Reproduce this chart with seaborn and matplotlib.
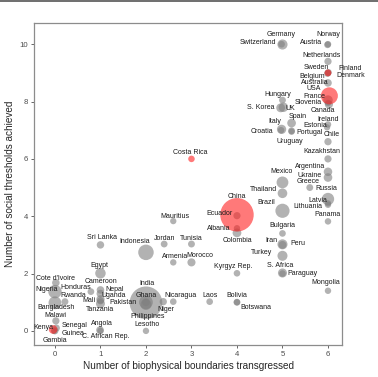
import numpy as np
import pandas as pd
import seaborn as sns
import matplotlib.pyplot as plt
from matplotlib.lines import Line2D

# countries, boundaries transgressed (jittered), thresholds achieved (jittered), population (M)
countries = ["Germany", "Switzerland", "Norway", "Austria", "Netherlands", "Sweden", "Finland",
             "Belgium", "Denmark", "Australia", "USA", "France", "Slovenia", "Canada", "Hungary",
             "S. Korea", "UK", "Spain", "Italy", "Croatia", "Ireland", "Estonia", "Portugal", "Uruguay",
             "Chile", "Kazakhstan", "Argentina", "Ukraine", "Greece", "Mexico", "Thailand", "Russia",
             "Latvia", "Lithuania", "Brazil", "Panama", "Bulgaria", "Iran", "Peru", "Turkey",
             "S. Africa", "Paraguay", "Mongolia", "China", "Ecuador", "Albania", "Colombia",
             "Kyrgyz Rep.", "Bolivia", "Botswana", "Costa Rica", "Mauritius", "Jordan", "Tunisia",
             "Indonesia", "Armenia", "Morocco", "Sri Lanka", "Egypt", "Laos", "Nicaragua", "Niger",
             "India", "Ghana", "Pakistan", "Philippines", "Lesotho", "Cote d'Ivoire", "Nigeria",
             "Bangladesh", "Rwanda", "Malawi", "Kenya", "Senegal", "Guinea", "Gambia", "Honduras",
             "Cameroon", "Nepal", "Uganda", "Mali", "Tanzania", "Angola", "C. African Rep."]
boundaries = [5.00, 4.98, 6.00, 5.99, 6.00, 6.00, 6.01,
              5.99, 6.00, 6.00, 6.03, 6.00, 6.00, 6.02, 5.00,
              4.96, 5.02, 5.20, 4.98, 4.97, 6.00, 5.98, 5.20, 5.20,
              6.00, 6.00, 6.00, 6.00, 5.60, 5.00, 5.00, 6.00,
              6.00, 6.00, 5.00, 6.00, 5.00, 5.00, 5.00, 5.00,
              5.00, 5.00, 6.00, 4.00, 4.00, 4.00, 4.00,
              4.00, 4.00, 4.00, 3.00, 2.60, 2.40, 3.00,
              2.00, 2.60, 3.00, 1.00, 1.00, 3.40, 2.60, 2.38,
              2.00, 2.00, 2.00, 2.00, 2.00, 0.02, 0.00,
              0.00, 0.22, 0.02, -0.04, 0.03, 0.00, -0.02, 0.79,
              1.00, 1.00, 1.00, 1.00, 1.00, 0.99, 1.00]
thresholds = [9.99, 10.0, 10.0, 9.98, 9.40, 9.00, 9.02,
              8.98, 9.00, 8.65, 8.20, 8.05, 7.95, 7.90, 8.05,
              7.78, 7.80, 7.25, 7.03, 7.00, 7.20, 7.10, 6.98, 6.95,
              6.60, 6.00, 5.55, 5.35, 5.00, 5.18, 4.80, 4.60,
              4.45, 4.40, 4.19, 3.82, 3.40, 3.02, 3.00, 2.62,
              2.02, 2.00, 1.40, 4.05, 4.02, 3.58, 3.42,
              2.01, 1.00, 1.00, 6.00, 3.83, 3.03, 3.03,
              2.74, 2.39, 2.39, 3.00, 2.01, 1.02, 1.02, 1.02,
              0.98, 1.00, 1.00, 0.92, 0.00, 1.68, 1.37,
              0.98, 1.02, 0.35, 0.05, 0.10, 0.00, 0.00, 1.37,
              1.43, 1.30, 1.10, 1.05, 0.95, 0.03, 0.00]
population = [81, 8, 5, 8.5, 17, 10, 5.5,
              11, 5.7, 24, 320, 66, 2, 36, 10,
              50, 65, 46, 60, 4, 4.6, 1.3, 10, 3.4,
              18, 17, 43, 45, 11, 127, 68, 144,
              2, 3, 205, 4, 7, 79, 31, 78,
              55, 7, 3, 1370, 16, 3, 48,
              6, 11, 2, 5, 1.3, 9.5, 11,
              255, 3, 34, 21, 90, 7, 6, 19,
              1300, 27, 190, 100, 2, 23, 180,
              160, 11, 17, 46, 15, 12, 2, 8,
              23, 28, 39, 17, 53, 25, 4.5]
highlighted = ["USA", "China", "Costa Rica", "Sweden", "Kenya"]

# label offsets in pixels (dx, dy) from each bubble
label_offsets = {
    "Germany": (-1, 10), "Switzerland": (-24, 2), "Norway": (0, 10), "Austria": (-16, 2),
    "Netherlands": (-6, 6), "Sweden": (-12, 5), "Finland": (22, 4), "Belgium": (-15, -3),
    "Denmark": (23, -3), "Australia": (-13, 0), "USA": (-16, 7), "France": (-14, 4),
    "Slovenia": (-20, 0), "Canada": (-6, -6), "Hungary": (-5, 6), "S. Korea": (-20, 0),
    "UK": (7, -1), "Spain": (6, 7), "Italy": (-7, 8), "Croatia": (-19, -1), "Ireland": (0, 5),
    "Estonia": (-12, 2), "Portugal": (18, -2), "Uruguay": (-2, -10), "Chile": (4, 7),
    "Kazakhstan": (-6, 7), "Argentina": (-18, 5), "Ukraine": (-18, 2), "Greece": (-2, 6),
    "Mexico": (-1, 11), "Thailand": (-19, 4), "Russia": (-2, 11), "Latvia": (-10, 3),
    "Lithuania": (-20, -2), "Brazil": (-16, 8), "Panama": (0, 7), "Bulgaria": (0, 8),
    "Iran": (-11, 4), "Peru": (15, 1), "Turkey": (-21, 3), "S. Africa": (-2, 7),
    "Paraguay": (20, 0), "Mongolia": (-2, 8), "China": (0, 18), "Ecuador": (-17, 2),
    "Albania": (-18, 0), "Colombia": (0, -8), "Kyrgyz Rep.": (-4, 7), "Bolivia": (0, 7),
    "Botswana": (19, -5), "Costa Rica": (-1, 6), "Mauritius": (2, 5), "Jordan": (0, 6),
    "Tunisia": (0, 6), "Indonesia": (-11, 11), "Armenia": (2, 6), "Morocco": (8, 7),
    "Sri Lanka": (2, 7), "Egypt": (-1, 8), "Laos": (0, 6), "Nicaragua": (7, 6),
    "Niger": (3, -8), "India": (1, 19), "Ghana": (0, 7), "Pakistan": (-23, 0),
    "Philippines": (2, -12), "Lesotho": (1, 6), "Cote d'Ivoire": (0, 4), "Nigeria": (-8, 2),
    "Bangladesh": (1, -5), "Rwanda": (8, 6), "Malawi": (0, 5), "Kenya": (-10, 2),
    "Senegal": (18, 3), "Guinea": (18, -3), "Gambia": (1, -10), "Honduras": (-15, 4),
    "Cameroon": (1, 8), "Nepal": (14, 4), "Uganda": (13, 4), "Mali": (-12, 0),
    "Tanzania": (0, -6), "Angola": (2, 7), "C. African Rep.": (5, -6),
}

df = pd.DataFrame({"country": countries, "boundaries": boundaries,
                   "thresholds": thresholds, "population": population})
df["group"] = np.where(df["country"].isin(highlighted), "red", "grey")
# red bubbles drawn last
df = df.sort_values("group", kind="stable")

sns.set_style("white")
plt.rcParams["font.family"] = ["Liberation Sans", "DejaVu Sans"]

fig = plt.figure(figsize=(3.78, 3.77), dpi=100)
ax = fig.add_axes([0.09, 0.085, 0.815, 0.854])

sns.scatterplot(data=df, x="boundaries", y="thresholds", size="population",
                sizes=(20, 580), size_norm=(0, 1370), hue="group",
                palette={"grey": "#7f7f7f", "red": "#ff2020"}, alpha=0.6,
                linewidth=0, legend=False, ax=ax)

for _, row in df.iterrows():
    dx, dy = label_offsets[row["country"]]
    ax.annotate(row["country"], (row["boundaries"], row["thresholds"]),
                xytext=(dx, dy), textcoords="offset pixels",
                ha="center", va="center", fontsize=5, color="#1a1a1a")

ax.set_xlim(-0.46, 6.31)
ax.set_ylim(-0.49, 10.74)
ax.set_xticks(range(0, 7))
ax.set_yticks(range(0, 11, 2))
ax.set_xlabel("Number of biophysical boundaries transgressed", fontsize=7.2, labelpad=2)
ax.set_ylabel("Number of social thresholds achieved", fontsize=7.2, labelpad=3)
ax.tick_params(axis="both", labelsize=5.6, colors="#4d4d4d", length=2.5, width=0.6,
               direction="out", left=True, bottom=True, pad=2)
for spine in ax.spines.values():
    spine.set_color("#8c8c8c")
    spine.set_linewidth(0.9)

fig.add_artist(Line2D([0, 1], [0.998, 0.998], color="#555555", linewidth=1.2))

fig.savefig("out.png", dpi=100)
